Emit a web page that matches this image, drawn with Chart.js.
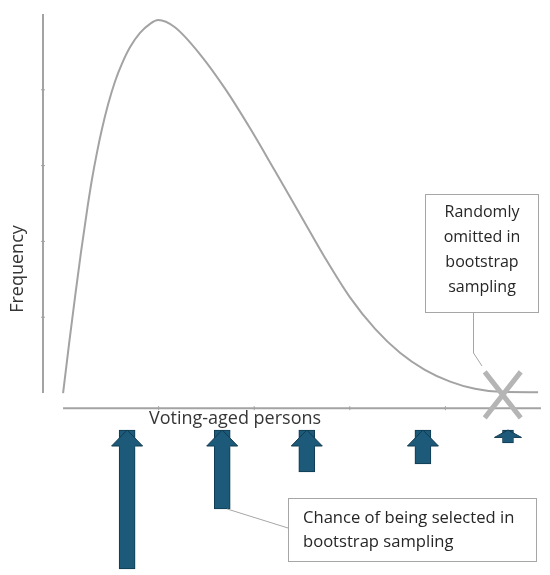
<!DOCTYPE html>
<html><head><meta charset="utf-8">
<script src="https://cdn.jsdelivr.net/npm/chart.js@4"></script>
<style>html,body{margin:0;padding:0;background:#fff}#wrap{width:550px;height:575px;position:relative}</style>
</head><body><div id="wrap"><canvas id="c" width="550" height="575"></canvas></div>
<script>
// ---- data ----
const curveX = [0, 1.24, 2.50, 3.75, 5.11, 6.05, 7.10, 8.15, 9.41, 10.87, 12.33, 14.0, 16.1, 18.2, 19.9,
                23.4, 28.7, 33.9, 39.1, 44.3, 49.6, 54.8, 60.0, 65.3, 70.5, 75.7, 81.0, 86.2, 91.4, 99.4];
const curveY = [0, 12.8, 25.3, 37.2, 49.0, 56.4, 63.5, 69.7, 76.1, 82.2, 86.9, 91.2, 95.0, 97.4, 98.4,
                96.5, 89.3, 80.3, 69.9, 58.7, 47.1, 35.7, 25.3, 16.9, 10.6, 6.1, 3.0, 1.1, 0.3, 0.2];
const arrowX = [13.4, 33.3, 51.0, 75.3, 93.1];
const chance = [13.9, 7.9, 4.2, 3.4, 1.3];
const freqTicks = [20, 40, 60, 80];
const personTicks = [20, 40, 60, 80];
const omittedX = 92.0;
const xTitle = 'Voting-aged persons';
const yTitle = 'Frequency';
const noteSelected = ['Chance of being selected in', 'bootstrap sampling'];
const noteOmitted = ['Randomly', 'omitted in', 'bootstrap', 'sampling'];

const FONT = '"Open Sans", "Noto Sans", sans-serif';
const AXIS_GRAY = '#a3a3a3';
const ARROW_FILL = '#1d5a79';
const ARROW_EDGE = '#0f3a50';

const curvePts = curveX.map((x, i) => ({x, y: curveY[i]}));
const bigArrows = arrowX.slice(0, 4).map((x, i) => ({x, y: [0, chance[i]]}));
const smallArrows = arrowX.slice(4).map((x, i) => ({x, y: [0, chance[i + 4]]}));

const deco = {
  id: 'deco',
  beforeDatasetsDraw(chart) {
    const {ctx, scales: {x, y}} = chart;
    const ax = chart.chartArea.left;
    ctx.save();
    ctx.strokeStyle = AXIS_GRAY; ctx.lineWidth = 2; ctx.lineCap = 'butt';
    ctx.beginPath();
    ctx.moveTo(ax, y.getPixelForValue(100));
    ctx.lineTo(ax, y.getPixelForValue(0));
    ctx.stroke();
    ctx.lineWidth = 1;
    freqTicks.forEach(v => {
      const py = y.getPixelForValue(v);
      ctx.beginPath(); ctx.moveTo(ax - 2, py); ctx.lineTo(ax + 2, py); ctx.stroke();
    });
    const yAx = y.getPixelForValue(-4);
    ctx.lineWidth = 2;
    ctx.beginPath();
    ctx.moveTo(x.getPixelForValue(0), yAx);
    ctx.lineTo(x.getPixelForValue(100), yAx);
    ctx.stroke();
    ctx.lineWidth = 1;
    personTicks.forEach(v => {
      const px = x.getPixelForValue(v);
      ctx.beginPath(); ctx.moveTo(px, yAx - 2); ctx.lineTo(px, yAx + 2); ctx.stroke();
    });
    ctx.restore();
  },
  afterDatasetsDraw(chart) {
    const {ctx, scales: {x, y, y2}} = chart;
    ctx.save();
    // arrow heads
    [1, 2].forEach(di => {
      const meta = chart.getDatasetMeta(di);
      const ds = chart.data.datasets[di];
      meta.data.forEach((el, i) => {
        const tip = y2.getPixelForValue(0);
        const bottom = y2.getPixelForValue(ds.data[i].y[1]);
        const hh = Math.min(ds.headH, (bottom - tip) * 0.57);
        const hw = ds.headW / 2, bw = ds.barThickness / 2;
        const cx = el.x;
        ctx.fillStyle = ARROW_FILL;
        ctx.beginPath();
        ctx.moveTo(cx, tip); ctx.lineTo(cx + hw, tip + hh); ctx.lineTo(cx - hw, tip + hh); ctx.closePath();
        ctx.fill();
        ctx.fillRect(cx - bw + 0.5, tip + hh - 1, bw * 2 - 1, 3);
        ctx.strokeStyle = ARROW_EDGE; ctx.lineWidth = 1;
        ctx.beginPath();
        ctx.moveTo(cx - bw, tip + hh); ctx.lineTo(cx - hw, tip + hh); ctx.lineTo(cx, tip);
        ctx.lineTo(cx + hw, tip + hh); ctx.lineTo(cx + bw, tip + hh);
        ctx.stroke();
      });
    });
    // X mark for omitted person
    const xc = x.getPixelForValue(omittedX), yc = y.getPixelForValue(-0.5);
    ctx.strokeStyle = '#b5b5b5'; ctx.lineWidth = 5; ctx.lineCap = 'butt';
    ctx.beginPath();
    ctx.moveTo(xc - 18, yc - 23); ctx.lineTo(xc + 18, yc + 23);
    ctx.moveTo(xc + 18, yc - 23); ctx.lineTo(xc - 18, yc + 23);
    ctx.stroke();
    // titles
    ctx.fillStyle = '#363636';
    ctx.font = '18px ' + FONT;
    ctx.textAlign = 'center'; ctx.textBaseline = 'middle';
    ctx.fillText(xTitle, 235, 419);
    ctx.save();
    ctx.translate(18, 269); ctx.rotate(-Math.PI / 2);
    ctx.fillText(yTitle, 0, 0);
    ctx.restore();
    // callout: omitted
    ctx.strokeStyle = '#a6a6a6'; ctx.lineWidth = 1;
    ctx.strokeRect(425.5, 194.5, 113, 118);
    ctx.beginPath();
    ctx.moveTo(473.5, 312); ctx.lineTo(473.5, 353); ctx.lineTo(482, 366);
    ctx.stroke();
    ctx.fillStyle = '#262626';
    ctx.font = '16px ' + FONT;
    noteOmitted.forEach((t, i) => ctx.fillText(t, 482, 212 + i * 25));
    // callout: selected
    ctx.strokeRect(288.5, 498.5, 248, 63);
    ctx.beginPath();
    ctx.moveTo(x.getPixelForValue(arrowX[1]) + 5, y2.getPixelForValue(chance[1])); ctx.lineTo(288, 528);
    ctx.stroke();
    ctx.textAlign = 'left';
    ctx.font = '16.6px ' + FONT;
    noteSelected.forEach((t, i) => ctx.fillText(t, 303, 518 + i * 24));
    ctx.restore();
  }
};

new Chart(document.getElementById('c'), {
  type: 'bar',
  data: {
    datasets: [
      {type: 'line', data: curvePts, xAxisID: 'x', yAxisID: 'y', borderColor: '#a3a3a3', borderWidth: 2,
       pointRadius: 0, fill: false, cubicInterpolationMode: 'monotone'},
      {type: 'bar', data: bigArrows, xAxisID: 'x', yAxisID: 'y2', backgroundColor: ARROW_FILL,
       borderColor: ARROW_EDGE, borderWidth: 1, borderSkipped: false, barThickness: 16, grouped: false,
       headW: 31, headH: 16},
      {type: 'bar', data: smallArrows, xAxisID: 'x', yAxisID: 'y2', backgroundColor: ARROW_FILL,
       borderColor: ARROW_EDGE, borderWidth: 1, borderSkipped: false, barThickness: 11, grouped: false,
       headW: 27, headH: 16}
    ]
  },
  options: {
    responsive: false, animation: false,
    layout: {padding: {left: 43, right: 10, top: 14, bottom: 5}},
    plugins: {legend: {display: false}, tooltip: {enabled: false}},
    scales: {
      x: {type: 'linear', min: -4.2, max: 99.8, offset: false, display: false},
      y: {type: 'linear', min: -46.7, max: 100, display: false},
      y2: {type: 'linear', min: -41.6, max: 14.0, reverse: true, display: false}
    }
  },
  plugins: [deco]
});
</script></body></html>
